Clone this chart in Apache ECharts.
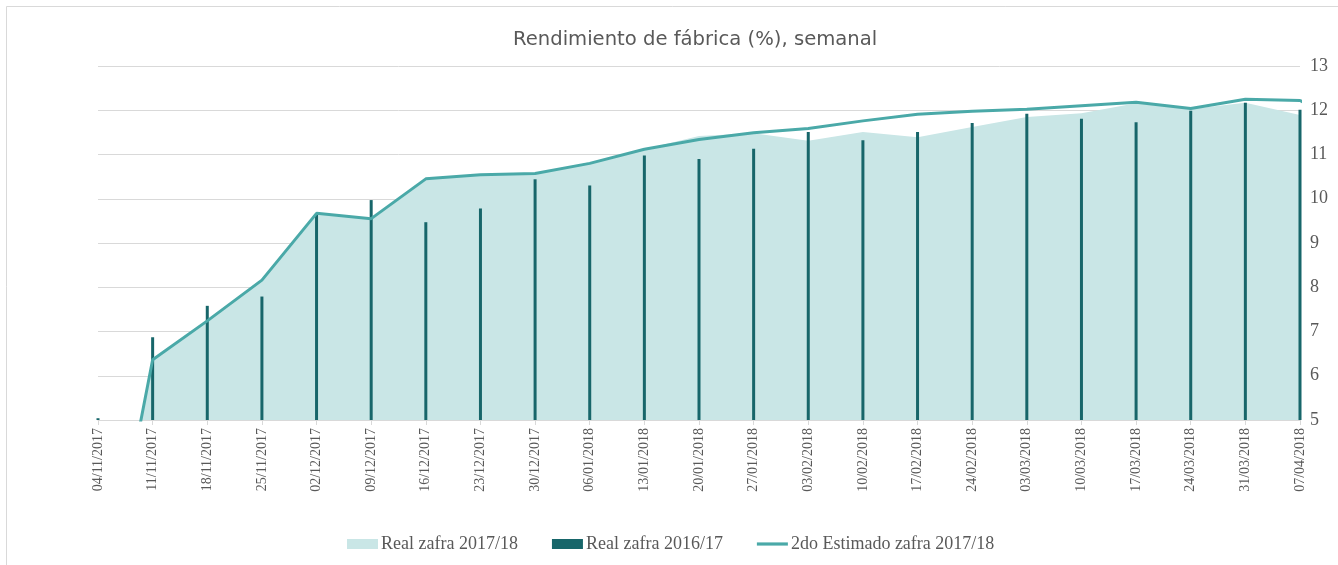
<!DOCTYPE html>
<html>
<head>
<meta charset="utf-8">
<script src="https://cdn.jsdelivr.net/npm/echarts@6/dist/echarts.min.js"></script>
<style>
html,body{margin:0;padding:0;background:#fff;}
#c{width:1338px;height:565px;}
</style>
</head>
<body>
<div id="c"></div>
<script>
const categories = ["04/11/2017","11/11/2017","18/11/2017","25/11/2017","02/12/2017","09/12/2017","16/12/2017","23/12/2017","30/12/2017","06/01/2018","13/01/2018","20/01/2018","27/01/2018","03/02/2018","10/02/2018","17/02/2018","24/02/2018","03/03/2018","10/03/2018","17/03/2018","24/03/2018","31/03/2018","07/04/2018","14/04/2018"];
const real1718 = [0,6.36,7.24,8.16,9.67,9.55,10.45,10.54,10.57,10.80,11.12,11.42,11.48,11.31,11.51,11.39,11.62,11.85,11.93,12.16,12.03,12.17,11.89,0];
const real1617 = [5.04,6.87,7.58,7.79,9.65,9.97,9.47,9.78,10.44,10.30,10.98,10.90,11.13,11.51,11.32,11.51,11.71,11.92,11.81,11.73,11.99,12.17,12.01,null];
const estimado = [0,6.36,7.24,8.16,9.67,9.55,10.45,10.54,10.57,10.80,11.12,11.34,11.49,11.59,11.76,11.91,11.98,12.02,12.10,12.18,12.04,12.25,12.22,11.6];
const yTicks = [5,6,7,8,9,10,11,12,13];

const chart = echarts.init(document.getElementById('c'));
chart.setOption({
  animation:false,
  backgroundColor:'#fff',
  title:{text:'Rendimiento de fábrica (%), semanal',left:508,top:25,
    textStyle:{fontFamily:'DejaVu Sans',fontWeight:'normal',fontSize:19.6,color:'#595959'}},
  grid:{left:98,right:38,top:66,bottom:145},
  legend:{left:342,bottom:7,itemGap:34,itemWidth:31,itemHeight:10,
    textStyle:{fontFamily:'Liberation Serif',fontSize:18,color:'#595959',padding:[0,0,0,-2]},
    data:[{name:'Real zafra 2017/18',icon:'rect'},{name:'Real zafra 2016/17',icon:'rect'},
      {name:'2do Estimado zafra 2017/18',icon:'path://M0,0 L31,0 L31,3.2 L0,3.2 Z',itemStyle:{color:'#4AA9A8'}}]},
  xAxis:{type:'category',data:categories,boundaryGap:false,max:22,
    axisLine:{lineStyle:{color:'#D9D9D9',width:1}},
    axisTick:{show:true,length:5,lineStyle:{color:'#D9D9D9'}},
    axisLabel:{rotate:90,interval:0,fontFamily:'Liberation Serif',fontSize:14,color:'#595959',margin:8},
    splitLine:{show:false}},
  yAxis:{type:'value',position:'right',min:yTicks[0],max:yTicks[yTicks.length-1],interval:1,
    axisLine:{show:false},axisTick:{show:false},
    axisLabel:{fontFamily:'Liberation Serif',fontSize:18,color:'#595959',margin:10},
    splitLine:{lineStyle:{color:'#D9D9D9',width:1}}},
  graphic:[{type:'rect',shape:{x:6.5,y:6.5,width:1400,height:700},style:{fill:'none',stroke:'#D9D9D9',lineWidth:1},silent:true}],
  series:[
    {name:'Real zafra 2017/18',type:'line',data:real1718,symbol:'none',clip:true,
      lineStyle:{width:0,color:'#C9E6E6'},itemStyle:{color:'#C9E6E6'},
      areaStyle:{color:'#C9E6E6',opacity:1},z:1},
    {name:'Real zafra 2016/17',type:'bar',data:real1617,barWidth:3,
      itemStyle:{color:'#17666A'},z:2},
    {name:'2do Estimado zafra 2017/18',type:'line',data:estimado,symbol:'none',clip:true,
      lineStyle:{width:3,color:'#4AA9A8'},itemStyle:{color:'#4AA9A8'},z:3}
  ]
});
</script>
</body>
</html>
